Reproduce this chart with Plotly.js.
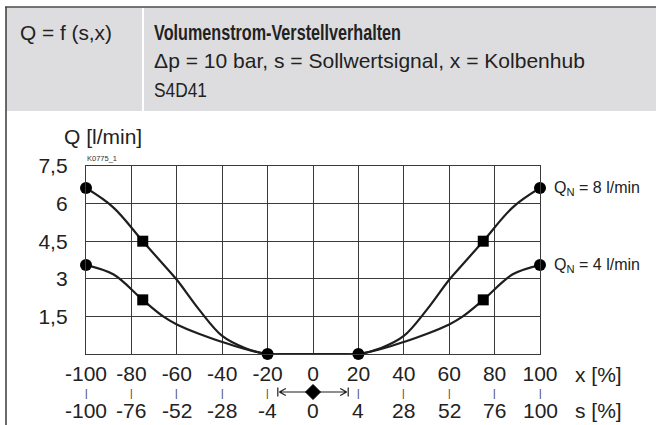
<!DOCTYPE html>
<html>
<head>
<meta charset="utf-8">
<script src="https://cdn.plot.ly/plotly-3.0.1.min.js"></script>
<style>
html,body{margin:0;padding:0;background:#fff;}
#chart{width:656px;height:425px;}
</style>
</head>
<body>
<div id="chart"></div>
<script>
// ---- data ----
const xTickVals = [-100, -80, -60, -40, -20, 0, 20, 40, 60, 80, 100];
const xTickText = ['-100', '-80', '-60', '-40', '-20', '0', '20', '40', '60', '80', '100'];
const sTickText = ['-100', '-76', '-52', '-28', '-4', '0', '4', '28', '52', '76', '100'];
const yTickVals = [1.5, 3, 4.5, 6, 7.5];
const yTickText = ['1,5', '3', '4,5', '6', '7,5'];

const xCurve  = [-100, -88, -75, -66, -60, -50, -40, -30, -20, -10, 0, 10, 20, 30, 40, 50, 60, 66, 75, 88, 100];
const q8Curve = [6.62, 5.85, 4.5, 3.58, 2.96, 1.75, 0.72, 0.24, 0, 0, 0, 0, 0, 0.24, 0.72, 1.75, 2.96, 3.58, 4.5, 5.85, 6.62];
const q4Curve = [3.55, 3.18, 2.16, 1.5, 1.18, 0.8, 0.48, 0.2, 0, 0, 0, 0, 0, 0.2, 0.48, 0.8, 1.18, 1.5, 2.16, 3.18, 3.55];

const circleX = [-100, -20, 20, 100, -100, 100];
const circleY = [6.62, 0, 0, 6.62, 3.55, 3.55];
const squareX = [-75, 75, -75, 75];
const squareY = [4.5, 4.5, 2.16, 2.16];

const seriesNames = ['Q<sub>N</sub> = 8 l/min', 'Q<sub>N</sub> = 4 l/min'];
const seriesEndY = [6.62, 3.55];

// ---- layout geometry ----
const W = 656, H = 425;
const M = {l: 86, r: 116, t: 166, b: 71};
const PW = W - M.l - M.r, PH = H - M.t - M.b;
const px = v => (v - M.l) / PW;
const py = v => (H - M.b - v) / PH;

const ink = '#1e1e1e';
const gridC = '#3a3a3a';
const fontMain = 'Liberation Sans, Arial, Helvetica, sans-serif';

const traces = [
  {x: xCurve, y: q8Curve, mode: 'lines', line: {color: ink, width: 2.2, shape: 'spline', smoothing: 1}, hoverinfo: 'skip'},
  {x: xCurve, y: q4Curve, mode: 'lines', line: {color: ink, width: 2.2, shape: 'spline', smoothing: 1}, hoverinfo: 'skip'},
  {x: circleX, y: circleY, mode: 'markers', cliponaxis: false,
   marker: {symbol: 'circle', size: 12, color: '#000'}},
  {x: squareX, y: squareY, mode: 'markers', cliponaxis: false,
   marker: {symbol: 'square', size: 11, color: '#000'}}
];

const shapes = [];
const annotations = [];

// header box
shapes.push({type: 'rect', xref: 'paper', yref: 'paper', x0: px(6), x1: px(660), y0: py(111), y1: py(7),
  fillcolor: '#dddddf', line: {width: 0}, layer: 'above'});
shapes.push({type: 'line', xref: 'paper', yref: 'paper', x0: px(5), x1: px(660), y0: py(7), y1: py(7),
  line: {color: '#4a4a4a', width: 1.5}, layer: 'above'});
shapes.push({type: 'line', xref: 'paper', yref: 'paper', x0: px(6), x1: px(6), y0: py(7), y1: py(430),
  line: {color: '#3a3a3a', width: 1.5}, layer: 'above'});
shapes.push({type: 'line', xref: 'paper', yref: 'paper', x0: px(143), x1: px(143), y0: py(8), y1: py(111),
  line: {color: '#ffffff', width: 2}, layer: 'above'});

// header texts (name, text, left px, centre px, target width px, bold, size)
const headItems = [
  ['h0', 'Q = f (s,x)', 18, 32.5, 92, false, 20],
  ['h1', 'Volumenstrom-Verstellverhalten', 152, 32.5, 247, true, 22],
  ['h2', 'Δp = 10 bar, s = Sollwertsignal, x = Kolbenhub', 152, 61.5, 431, false, 20],
  ['h3', 'S4D41', 152, 90, 53, false, 20]
];
headItems.forEach(h => annotations.push({name: h[0], xref: 'paper', yref: 'paper', x: px(h[2]), y: py(h[3]),
  xanchor: 'left', yanchor: 'middle', text: h[5] ? '<b>' + h[1] + '</b>' : h[1], showarrow: false,
  font: {family: fontMain, size: h[6], color: '#222'}}));

// axis title + code
annotations.push({xref: 'paper', yref: 'paper', x: px(62), y: py(136), xanchor: 'left', yanchor: 'middle',
  text: 'Q [l/min]', showarrow: false, font: {family: fontMain, size: 21, color: '#222'}});
annotations.push({xref: 'paper', yref: 'paper', x: px(85), y: py(158), xanchor: 'left', yanchor: 'middle',
  text: 'K0775_1', showarrow: false, font: {family: fontMain, size: 7.5, color: '#333'}});

// series labels
seriesNames.forEach((t, i) => annotations.push({xref: 'x', yref: 'y', x: 100, y: seriesEndY[i], xanchor: 'left',
  yanchor: 'middle', xshift: 12, text: t, showarrow: false, font: {family: fontMain, size: 16, color: '#222'}}));

// axis unit labels
annotations.push({xref: 'paper', yref: 'paper', x: px(573), y: py(374), xanchor: 'left', yanchor: 'middle',
  text: 'x [%]', showarrow: false, font: {family: fontMain, size: 21, color: '#222'}});
annotations.push({xref: 'paper', yref: 'paper', x: px(573), y: py(410), xanchor: 'left', yanchor: 'middle',
  text: 's [%]', showarrow: false, font: {family: fontMain, size: 21, color: '#222'}});

// second scale (s) with its small tick marks
xTickVals.forEach((xv, i) => {
  annotations.push({xref: 'x', yref: 'paper', x: xv, y: py(410), xanchor: 'center', yanchor: 'middle',
    text: sTickText[i], showarrow: false, font: {family: fontMain, size: 21, color: '#222'}});
  if (xv !== 0) {
    annotations.push({xref: 'x', yref: 'paper', x: xv, y: py(393), xanchor: 'center', yanchor: 'middle',
      text: '|', showarrow: false, font: {family: fontMain, size: 10, color: '#333'}});
  }
});

// dead-band arrow |<-- ◆ -->|
const dead = 15.5;
shapes.push({type: 'path', xref: 'x', yref: 'paper', xsizemode: 'pixel', ysizemode: 'pixel',
  xanchor: -dead, yanchor: py(392),
  path: 'M0,-4.5 L0,4.5 M1.5,0 L29,0 M1.5,0 L8,3.5 M1.5,0 L8,-3.5',
  line: {color: ink, width: 1.2}});
shapes.push({type: 'path', xref: 'x', yref: 'paper', xsizemode: 'pixel', ysizemode: 'pixel',
  xanchor: dead, yanchor: py(392),
  path: 'M0,-4.5 L0,4.5 M-1.5,0 L-29,0 M-1.5,0 L-8,3.5 M-1.5,0 L-8,-3.5',
  line: {color: ink, width: 1.2}});
shapes.push({type: 'path', xref: 'x', yref: 'paper', xsizemode: 'pixel', ysizemode: 'pixel',
  xanchor: 0, yanchor: py(392),
  path: 'M-7.5,0 L0,7.5 L7.5,0 L0,-7.5 Z',
  fillcolor: '#000', line: {color: '#000', width: 1}});

const layout = {
  width: W, height: H,
  margin: M,
  paper_bgcolor: '#fff', plot_bgcolor: '#fff',
  showlegend: false,
  font: {family: fontMain, size: 21, color: '#222'},
  xaxis: {
    range: [-100, 100], tickvals: xTickVals, ticktext: xTickText,
    showgrid: true, gridcolor: gridC, gridwidth: 1,
    zeroline: false, showline: true, mirror: true, linecolor: gridC, linewidth: 1.2,
    ticks: '', ticklabelstandoff: 1,
    tickfont: {family: fontMain, size: 21, color: '#222'}, fixedrange: true
  },
  yaxis: {
    range: [0, 7.5], tickvals: yTickVals, ticktext: yTickText,
    showgrid: true, gridcolor: gridC, gridwidth: 1,
    zeroline: false, showline: true, mirror: true, linecolor: gridC, linewidth: 1.2,
    ticks: '', ticklabelstandoff: 13,
    tickfont: {family: fontMain, size: 21, color: '#222'}, fixedrange: true
  },
  shapes: shapes,
  annotations: annotations
};

Plotly.newPlot('chart', traces, layout, {staticPlot: true, displayModeBar: false}).then(gd => {
  // condense the header lines horizontally to match the narrow typeface of the original
  const texts = gd.querySelectorAll('.annotation-text');
  headItems.forEach(h => {
    texts.forEach(t => {
      if (t.textContent === h[1]) {
        const bb = t.getBBox();
        if (bb.width > 0) {
          const s = h[4] / bb.width;
          const x0 = bb.x;
          t.setAttribute('transform', 'translate(' + x0 + ',0) scale(' + s + ',1) translate(' + (-x0) + ',0)');
        }
      }
    });
  });
});
</script>
</body>
</html>
